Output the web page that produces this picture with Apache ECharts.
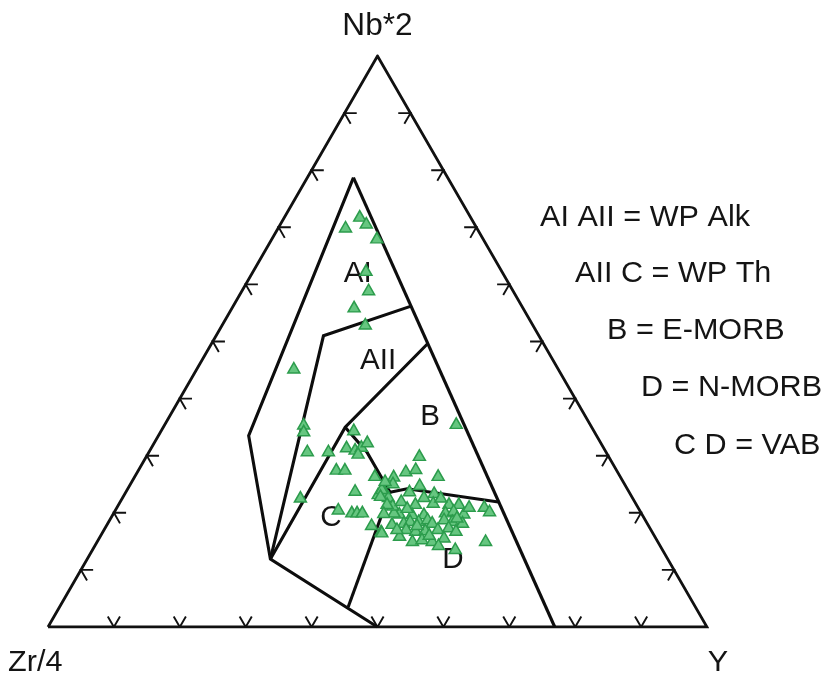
<!DOCTYPE html>
<html>
<head>
<meta charset="utf-8">
<script src="https://cdn.jsdelivr.net/npm/echarts@6/dist/echarts.min.js"></script>
<style>
  html, body { margin: 0; padding: 0; background: #ffffff; }
  #chart { width: 829px; height: 680px; }
</style>
</head>
<body>
<div id="chart"></div>
<script>
// Nb*2 – Zr/4 – Y discrimination diagram (Meschede, 1986)
// All compositions are [Nb*2, Zr/4, Y] in percent.

const apexNames = ['Nb*2', 'Zr/4', 'Y'];
const tickSteps = [10, 20, 30, 40, 50, 60, 70, 80, 90];

// field boundaries
const outerLeftBoundary = [[78.7, 14.3, 7.0], [33.5, 52.8, 13.7], [11.9, 60.3, 27.8], [0, 50, 50]];
const outerRightBoundary = [[78.7, 14.3, 7.0], [0, 23.1, 76.9]];
const lineAI_AII = [[56.2, 16.8, 27.0], [51.0, 32.7, 16.3], [11.9, 60.3, 27.8]];
const lineAII_B = [[49.6, 17.6, 32.8], [35.0, 37.4, 27.6], [11.9, 60.3, 27.8]];
const lineB_C = [[35.0, 37.4, 27.6], [30.6, 36.3, 33.1], [23.6, 36.3, 40.1]];
const lineB_D = [[23.6, 36.3, 40.1], [24.2, 33.4, 42.4], [21.9, 20.7, 57.4]];
const lineC_D = [[23.6, 36.3, 40.1], [3.5, 52.7, 43.8]];

const fieldNames = ['AI', 'AII', 'B', 'C', 'D'];
const legendLines = ['AI AII = WP Alk', 'AII C = WP Th', 'B = E-MORB', 'D = N-MORB', 'C D = VAB'];

// basalt samples
const samples = [
  [70.1, 19.8, 10.1], [72.0, 16.7, 11.3], [70.8, 16.3, 12.9], [68.2, 16.0, 15.8],
  [62.5, 20.5, 17.0], [59.1, 21.8, 19.1], [56.1, 25.5, 18.4], [53.1, 25.3, 21.6],
  [45.4, 40.0, 14.6], [35.7, 20.2, 44.1], [35.6, 43.4, 21.0], [34.4, 44.0, 21.6],
  [30.9, 45.2, 23.9], [30.9, 42.0, 27.1], [31.6, 38.9, 29.5], [34.6, 36.3, 29.1],
  [31.2, 37.8, 31.0], [31.7, 36.6, 31.7], [32.5, 35.3, 32.2], [30.5, 37.7, 31.8],
  [27.7, 42.4, 29.9], [27.7, 41.1, 31.2], [24.0, 41.4, 34.6], [26.6, 37.1, 36.3],
  [26.5, 34.3, 39.2], [25.3, 35.0, 39.7], [23.4, 38.2, 38.4], [23.7, 37.0, 39.3],
  [22.9, 36.9, 40.2], [24.3, 37.2, 38.5], [23.1, 38.0, 38.9], [22.8, 50.3, 26.9],
  [20.7, 45.6, 33.7], [20.2, 43.8, 36.0], [20.2, 43.0, 36.8], [20.2, 42.2, 37.6],
  [18.0, 41.9, 40.1], [16.9, 41.0, 42.1], [30.1, 28.6, 41.3], [27.4, 32.0, 40.6],
  [27.8, 30.3, 41.9], [26.6, 27.5, 45.9], [25.0, 31.1, 43.9], [23.9, 33.2, 42.9],
  [23.6, 29.6, 46.8], [21.9, 30.6, 47.5], [21.7, 33.4, 44.9], [21.7, 28.3, 50.0],
  [21.7, 26.8, 51.5], [21.2, 23.2, 55.6], [20.4, 22.8, 56.8], [20.0, 36.7, 43.3],
  [20.2, 37.4, 42.4], [19.9, 34.8, 45.3], [19.9, 33.0, 47.1], [20.2, 29.6, 50.2],
  [20.5, 28.2, 51.3], [20.0, 26.9, 53.1], [18.2, 38.7, 43.1], [18.4, 36.8, 44.8],
  [18.7, 35.7, 45.6], [18.7, 34.4, 46.9], [19.0, 32.9, 48.1], [18.4, 32.5, 49.1],
  [19.0, 30.4, 50.6], [18.7, 29.3, 52.0], [18.4, 27.9, 53.7], [16.7, 41.0, 42.3],
  [17.3, 37.0, 45.7], [17.0, 35.7, 47.3], [17.1, 34.2, 48.7], [17.3, 32.2, 50.5],
  [17.6, 30.4, 52.0], [17.0, 29.6, 53.4], [15.2, 37.1, 47.7], [15.5, 35.5, 49.0],
  [15.2, 34.1, 50.7], [15.8, 32.0, 52.2], [15.2, 26.0, 58.8], [13.8, 31.3, 54.9],
  [16.1, 38.6, 45.3], [21.4, 37.0, 41.6], [22.2, 35.3, 42.5], [22.9, 31.5, 45.6],
  [22.8, 29.0, 48.2], [21.7, 37.7, 40.6], [18.0, 35.0, 47.0], [16.3, 34.0, 49.7],
  [14.5, 33.5, 52.0], [21.0, 35.0, 44.0], [19.3, 28.3, 52.4], [21.2, 25.5, 53.3],
  [17.3, 38.4, 44.3], [20.1, 39.0, 40.9], [25.7, 36.0, 38.3]
];

// layout: where the field names sit, in the same ternary frame
const fieldLabelAt = [[61.8, 22.1, 16.1], [46.6, 26.6, 26.8], [36.8, 23.6, 39.6], [19.1, 47.5, 33.4], [11.7, 32.7, 55.6]];

const SQ = Math.sqrt(3) / 2;
const H = 100 * SQ;

// ternary composition -> cartesian (Zr/4 at left, Y at right, Nb*2 on top)
function toXY(t) {
  const s = t[0] + t[1] + t[2];
  const nb = t[0] / s * 100, y = t[2] / s * 100;
  return [y + nb / 2, nb * SQ];
}

const corners = { zr: [0, 0], y: [100, 0], nb: [50, H] };

// paired tick marks drawn parallel to the two other sides
const TICK = 1.85;
const sides = [
  { a: corners.zr, b: corners.y, d: [[0.5, SQ], [-0.5, SQ]] },
  { a: corners.zr, b: corners.nb, d: [[1, 0], [0.5, -SQ]] },
  { a: corners.y, b: corners.nb, d: [[-1, 0], [-0.5, -SQ]] }
];
const tickData = [];
sides.forEach(s => {
  tickSteps.forEach(st => {
    const f = st / 100;
    const p = [s.a[0] + (s.b[0] - s.a[0]) * f, s.a[1] + (s.b[1] - s.a[1]) * f];
    tickData.push({ coords: [
      [p[0] + s.d[0][0] * TICK, p[1] + s.d[0][1] * TICK],
      p,
      [p[0] + s.d[1][0] * TICK, p[1] + s.d[1][1] * TICK]
    ] });
  });
});

const boundaries = [outerLeftBoundary, outerRightBoundary, lineAI_AII, lineAII_B, lineB_C, lineB_D, lineC_D];

const chart = echarts.init(document.getElementById('chart'), null, { renderer: 'canvas' });

const FONT_FAMILY = '"Liberation Sans", Arial, Helvetica, sans-serif';

chart.setOption({
  animation: false,
  backgroundColor: '#ffffff',
  grid: { left: 48, top: 56, width: 659, height: 571, show: false },
  xAxis: { type: 'value', min: 0, max: 100, show: false },
  yAxis: { type: 'value', min: 0, max: H, show: false },
  series: [
    {
      type: 'lines', coordinateSystem: 'cartesian2d', polyline: true, silent: true, z: 2,
      lineStyle: { color: '#111111', width: 2.8, opacity: 1 },
      data: [{ coords: [corners.zr, corners.y, corners.nb, corners.zr] }]
    },
    {
      type: 'lines', coordinateSystem: 'cartesian2d', polyline: true, silent: true, z: 2,
      lineStyle: { color: '#111111', width: 1.9, opacity: 1 },
      data: tickData
    },
    {
      type: 'lines', coordinateSystem: 'cartesian2d', polyline: true, silent: true, z: 3,
      lineStyle: { color: '#0d0d0d', width: 3.1, opacity: 1, join: 'miter' },
      data: boundaries.map(b => ({ coords: b.map(toXY) }))
    },
    {
      type: 'scatter', z: 5, silent: true,
      symbol: 'triangle', symbolSize: [12, 10.5],
      itemStyle: { color: '#66c680', borderColor: '#2c9c4c', borderWidth: 1.5, opacity: 1 },
      data: samples.map(toXY)
    }
  ]
});

function textEl(str, x, y, align, size) {
  return {
    type: 'text', x: x, y: y, scaleX: 1.02, z: 4,
    style: {
      text: str, font: size + 'px ' + FONT_FAMILY, fill: '#141414',
      textAlign: align, textVerticalAlign: 'middle', align: align, verticalAlign: 'middle'
    }
  };
}

const graphics = [];
fieldNames.forEach((name, i) => {
  const px = chart.convertToPixel({ gridIndex: 0 }, toXY(fieldLabelAt[i]));
  graphics.push(textEl(name, px[0], px[1], 'center', 29));
});
const legendX = [540, 575, 607, 641, 674];
const legendY = [218, 274, 331, 388, 446];
legendLines.forEach((t, i) => graphics.push(textEl(t, legendX[i], legendY[i], 'left', 30)));

// apex names
const nbPx = chart.convertToPixel({ gridIndex: 0 }, corners.nb);
graphics.push(textEl(apexNames[0], nbPx[0], 26, 'center', 31));
graphics.push(textEl(apexNames[1], 8, 663, 'left', 30));
graphics.push(textEl(apexNames[2], 718, 663, 'center', 30));

chart.setOption({ graphic: graphics });
</script>
</body>
</html>
